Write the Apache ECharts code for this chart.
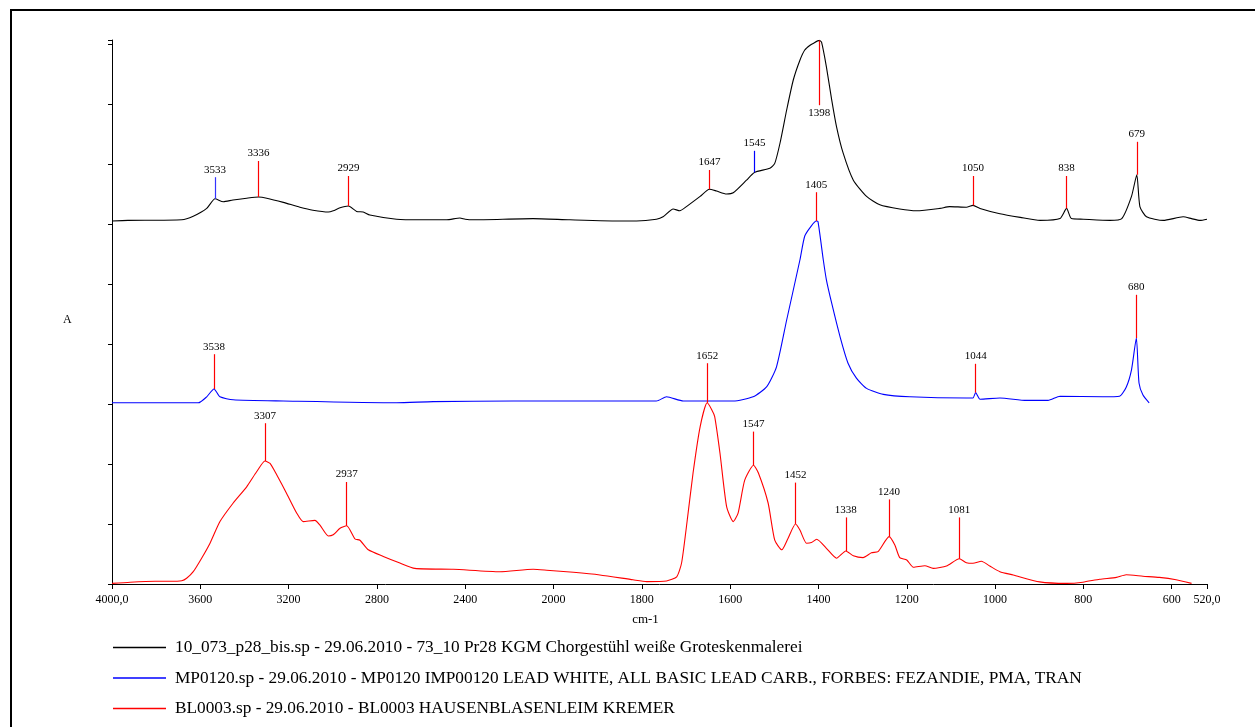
<!DOCTYPE html>
<html>
<head>
<meta charset="utf-8">
<title>IR spectra</title>
<script src="https://cdn.jsdelivr.net/npm/echarts@6.0.0/dist/echarts.min.js"></script>
<style>
  html, body { margin: 0; padding: 0; background: #fff; }
  #chart { width: 1255px; height: 727px; }
</style>
</head>
<body>
<div id="chart"></div>
<script>
  // legend names of the three spectra
  const seriesNames = [
    '10_073_p28_bis.sp - 29.06.2010 - 73_10 Pr28 KGM Chorgestühl weiße Groteskenmalerei',
    'MP0120.sp - 29.06.2010 - MP0120 IMP00120 LEAD WHITE, ALL BASIC LEAD CARB., FORBES: FEZANDIE, PMA, TRAN',
    'BL0003.sp - 29.06.2010 - BL0003 HAUSENBLASENLEIM KREMER'
  ]
  const seriesColors = ['#000000', '#0000ff', '#ff0000']

  // [cm-1, A] (spectra stacked)
  const sampleData = [
    [4000,6.05],[3928,6.06],[3684,6.07],[3632,6.13],[3571,6.26],[3533,6.42],[3496,6.37],[3452,6.40],
    [3390,6.43],[3336,6.45],[3299,6.43],[3224,6.36],[3149,6.28],[3090,6.23],[3020,6.20],[2998,6.22],
    [2967,6.27],[2929,6.30],[2892,6.21],[2862,6.20],[2832,6.15],[2711,6.08],[2605,6.07],[2484,6.07],
    [2424,6.10],[2400,6.08],[2365,6.07],[2093,6.09],[1963,6.07],[1842,6.05],[1812,6.05],[1767,6.08],
    [1752,6.12],[1729,6.25],[1714,6.22],[1699,6.29],[1668,6.46],[1647,6.58],[1631,6.55],[1608,6.50],
    [1593,6.52],[1563,6.73],[1545,6.86],[1510,6.93],[1499,7.01],[1487,7.35],[1472,7.90],[1457,8.40],
    [1442,8.73],[1431,8.90],[1419,8.98],[1412,9.01],[1398,9.06],[1393,9.03],[1382,8.62],[1370,8.07],
    [1359,7.62],[1344,7.18],[1321,6.73],[1291,6.46],[1261,6.32],[1216,6.25],[1178,6.22],[1125,6.26],
    [1103,6.29],[1065,6.28],[1050,6.31],[1034,6.26],[989,6.17],[943,6.11],[898,6.06],[853,6.09],
    [838,6.26],[827,6.09],[800,6.08],[740,6.06],[713,6.09],[691,6.46],[679,6.82],[672,6.29],
    [657,6.12],[619,6.06],[574,6.12],[555,6.09],[536,6.06],[520,6.08]
  ]
  const leadWhiteData = [
    [4000,3.02],[3609,3.02],[3571,3.12],[3538,3.25],[3511,3.12],[3451,3.07],[3224,3.05],[2711,3.02],
    [2545,3.04],[2183,3.05],[1767,3.05],[1744,3.12],[1706,3.05],[1593,3.05],[1548,3.12],[1517,3.29],
    [1495,3.62],[1472,4.40],[1442,5.40],[1431,5.80],[1416,5.97],[1405,6.05],[1401,6.04],[1389,5.40],
    [1382,5.07],[1370,4.68],[1351,4.12],[1333,3.68],[1314,3.43],[1291,3.26],[1253,3.16],[1193,3.12],
    [1065,3.10],[1050,3.10],[1044,3.19],[1034,3.08],[989,3.10],[929,3.06],[880,3.06],[853,3.13],
    [756,3.12],[718,3.13],[703,3.28],[691,3.57],[680,4.10],[674,3.35],[665,3.15],[651,3.02]
  ]
  const glueData = [
    [4000,0.01],[3918,0.03],[3805,0.045],[3737,0.045],[3684,0.055],[3662,0.095],[3632,0.205],[3594,0.43],
    [3556,0.68],[3511,1.04],[3451,1.35],[3390,1.62],[3345,1.87],[3307,2.05],[3284,2.01],[3254,1.82],
    [3209,1.51],[3163,1.18],[3134,1.04],[3081,1.06],[3058,0.98],[3020,0.80],[2998,0.82],[2967,0.93],
    [2937,0.97],[2899,0.75],[2877,0.73],[2839,0.57],[2771,0.46],[2696,0.35],[2628,0.26],[2454,0.245],
    [2243,0.205],[2092,0.245],[2031,0.23],[1955,0.195],[1895,0.15],[1820,0.07],[1789,0.04],[1744,0.05],
    [1721,0.12],[1710,0.35],[1699,0.955],[1684,1.85],[1668,2.62],[1652,3.02],[1642,2.91],[1635,2.79],
    [1623,2.18],[1608,1.29],[1593,1.04],[1582,1.18],[1567,1.73],[1547,1.98],[1536,1.85],[1514,1.35],
    [1499,0.73],[1483,0.57],[1469,0.76],[1452,1.00],[1442,0.90],[1427,0.68],[1416,0.69],[1404,0.745],
    [1382,0.595],[1359,0.43],[1338,0.55],[1321,0.47],[1299,0.44],[1280,0.52],[1265,0.54],[1240,0.79],
    [1227,0.65],[1216,0.44],[1200,0.40],[1185,0.28],[1159,0.305],[1140,0.26],[1110,0.30],[1081,0.42],
    [1065,0.355],[1050,0.345],[1031,0.38],[1012,0.30],[989,0.205],[959,0.15],[899,0.035],[838,0.01],
    [801,0.03],[763,0.08],[725,0.11],[703,0.155],[665,0.13],[628,0.11],[590,0.07],[555,0.01]
  ]

  // peak marks: [cm-1, A at peak, A at end of mark, mark colour]
  const samplePeaks = [
    [3533,6.42,6.78,'#3333ff'],[3336,6.45,7.05,'#ff0000'],[2929,6.30,6.80,'#ff0000'],
    [1647,6.58,6.90,'#ff0000'],[1545,6.86,7.22,'#0000ff'],[1398,9.06,7.98,'#ff0000'],
    [1050,6.31,6.80,'#ff0000'],[838,6.26,6.80,'#ff0000'],[679,6.82,7.37,'#ff0000']
  ]
  const leadWhitePeaks = [
    [3538,3.25,3.83,'#ff0000'],[1405,6.05,6.53,'#ff0000'],[1044,3.19,3.67,'#ff0000'],[680,4.10,4.82,'#ff0000']
  ]
  const gluePeaks = [
    [3307,2.05,2.68,'#ff0000'],[2937,0.97,1.70,'#ff0000'],[1652,3.02,3.68,'#ff0000'],[1547,1.98,2.54,'#ff0000'],
    [1452,1.00,1.69,'#ff0000'],[1338,0.55,1.11,'#ff0000'],[1240,0.79,1.41,'#ff0000'],[1081,0.42,1.11,'#ff0000']
  ]

  // the x scale is doubled below 2000 cm-1 -> piecewise axis position
  const toPos = (w) => w >= 2000 ? (4000 - w) / 2 : 1000 + (2000 - w)
  const toWave = (t) => t <= 1000 ? 4000 - 2 * t : 2000 - (t - 1000)

  const FONT = 'Liberation Serif'

  function makeSeries(name, color, data, peaks) {
    return {
      name: name,
      type: 'line',
      data: data.map(p => [toPos(p[0]), p[1]]),
      showSymbol: false,
      symbol: 'none',
      smooth: 0.2,
      color: color,
      itemStyle: { color: color },
      lineStyle: { color: color, width: 1.1 },
      silent: true,
      markLine: {
        silent: true,
        symbol: ['none', 'none'],
        animation: false,
        data: peaks.map(p => {
          const style = { color: p[3], width: 1.2, type: 'solid', opacity: 1 }
          const label = {
            show: true,
            position: 'end',
            distance: 2,
            formatter: String(p[0]),
            color: '#000',
            fontFamily: FONT,
            fontSize: 11
          }
          return [
            { coord: [toPos(p[0]), p[1]], lineStyle: style, itemStyle: { color: p[3] }, label: label },
            { coord: [toPos(p[0]), p[2]], lineStyle: style, itemStyle: { color: p[3] }, label: label }
          ]
        })
      }
    }
  }

  const myChart = echarts.init(document.getElementById('chart'))
  const option = {
    animation: false,
    backgroundColor: '#fff',
    textStyle: { fontFamily: FONT },
    graphic: [{
      type: 'rect',
      shape: { x: 11, y: 10, width: 1400, height: 900 },
      style: { fill: 'none', stroke: '#000', lineWidth: 2 },
      silent: true
    }, {
      // y axis title
      type: 'text',
      left: 63,
      top: 314,
      silent: true,
      style: { text: 'A', fill: '#000', font: '12px "Liberation Serif"' }
    }],
    grid: { left: 112, right: 48, top: 40, bottom: 143 },
    xAxis: {
      type: 'value',
      min: 0,
      max: 2480,
      interval: 200,
      name: 'cm-1',
      nameLocation: 'middle',
      nameGap: 29,
      nameTextStyle: { color: '#000', fontFamily: FONT, fontSize: 13, padding: [0, 28, 0, 0] },
      axisLine: { show: true, onZero: false, lineStyle: { color: '#000', width: 1 } },
      axisTick: { show: true, length: 5, lineStyle: { color: '#000' } },
      axisLabel: {
        color: '#000',
        fontFamily: FONT,
        fontSize: 12,
        margin: 10,
        showMinLabel: true,
        showMaxLabel: true,
        formatter: (t) => {
          const w = toWave(t)
          return (t === 0 || t === 2480) ? w + ',0' : String(w)
        }
      },
      splitLine: { show: false }
    },
    yAxis: {
      type: 'value',
      min: 0,
      max: 9.0667,
      interval: 1,
      axisLine: { show: true, lineStyle: { color: '#000', width: 1 } },
      axisTick: { show: true, length: 4, lineStyle: { color: '#000' } },
      axisLabel: { show: false },
      splitLine: { show: false }
    },
    legend: {
      orient: 'vertical',
      left: 113,
      top: 639,
      padding: 0,
      selectedMode: false,
      icon: 'rect',
      itemWidth: 53,
      itemHeight: 1.5,
      itemGap: 13.5,
      textStyle: { color: '#000', fontFamily: FONT, fontSize: 17.3, padding: [0, 0, 0, 4] },
      data: seriesNames.map((n, i) => ({ name: n, itemStyle: { color: seriesColors[i] } }))
    },
    series: [
      makeSeries(seriesNames[0], seriesColors[0], sampleData, samplePeaks),
      makeSeries(seriesNames[1], seriesColors[1], leadWhiteData, leadWhitePeaks),
      makeSeries(seriesNames[2], seriesColors[2], glueData, gluePeaks)
    ]
  }
  myChart.setOption(option)
</script>
</body>
</html>
